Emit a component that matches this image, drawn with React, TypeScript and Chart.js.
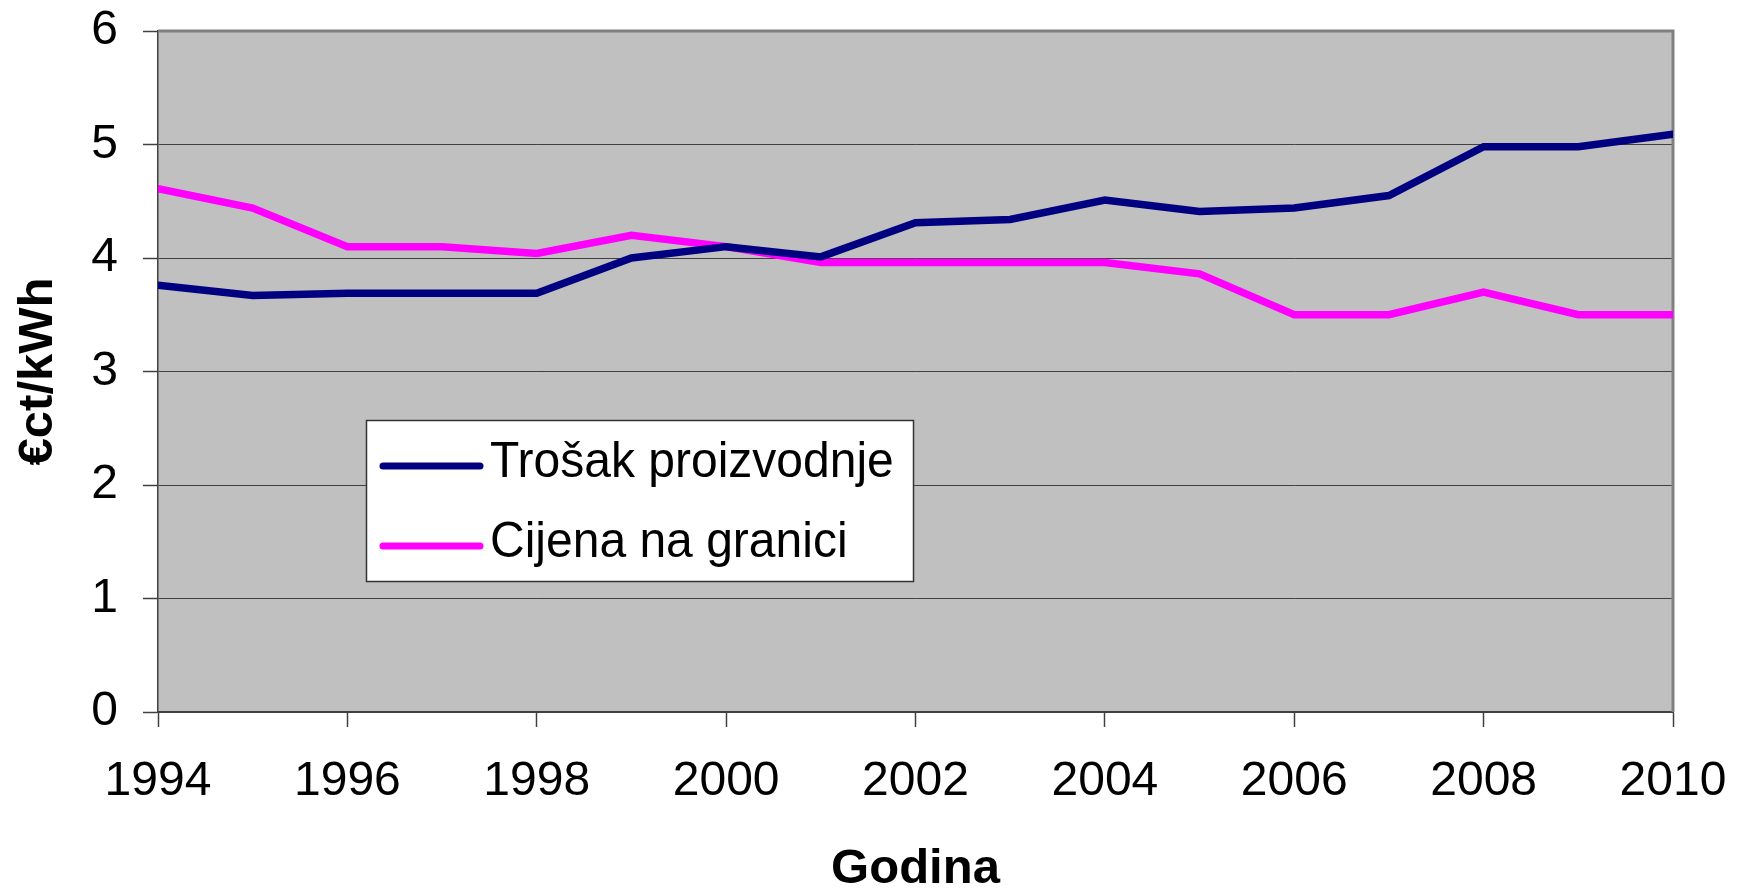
import React, { useEffect, useRef } from 'react';
import { Chart, registerables } from 'chart.js';

Chart.register(...registerables);

// ---- Data ----
const years = [1994, 1995, 1996, 1997, 1998, 1999, 2000, 2001, 2002, 2003, 2004, 2005, 2006, 2007, 2008, 2009, 2010];
const trosakProizvodnje = [3.76, 3.67, 3.69, 3.69, 3.69, 4.0, 4.1, 4.01, 4.31, 4.34, 4.51, 4.41, 4.44, 4.55, 4.98, 4.98, 5.09];
const cijenaNaGranici = [4.61, 4.44, 4.1, 4.1, 4.04, 4.2, 4.1, 3.96, 3.96, 3.96, 3.96, 3.86, 3.5, 3.5, 3.7, 3.5, 3.5];
const seriesLabels = ['Trošak proizvodnje', 'Cijena na granici'];
const seriesColors = ['#000080', '#FF00FF'];
const xAxisTitle = 'Godina';
const yAxisTitle = '€ct/kWh';
const yMin = 0;
const yMax = 6;
const yStep = 1;
const xStep = 2;

const FONT = "'Liberation Sans', Arial, Helvetica, sans-serif";
Chart.defaults.font.family = FONT;

const plotFrame = {
  id: 'plotFrame',
  beforeDraw(chart: any) {
    const { ctx, chartArea: a } = chart;
    ctx.save();
    ctx.fillStyle = '#C0C0C0';
    ctx.fillRect(a.left, a.top, a.right - a.left, a.bottom - a.top);
    ctx.restore();
  },
  beforeDatasetsDraw(chart: any) {
    const { ctx, chartArea: a } = chart;
    ctx.save();
    ctx.strokeStyle = '#808080';
    ctx.lineWidth = 3;
    ctx.beginPath();
    ctx.moveTo(a.left, a.top);
    ctx.lineTo(a.right, a.top);
    ctx.lineTo(a.right, a.bottom);
    ctx.stroke();
    ctx.restore();
  },
};

const boxLegend = {
  id: 'boxLegend',
  afterDatasetsDraw(chart: any) {
    const { ctx, chartArea: a } = chart;
    const x = a.left + 208;
    const y = a.top + 389;
    const w = 547;
    const h = 161;
    ctx.save();
    ctx.fillStyle = '#FFFFFF';
    ctx.fillRect(x, y, w, h);
    ctx.strokeStyle = '#333333';
    ctx.lineWidth = 1.5;
    ctx.strokeRect(x + 0.5, y + 0.5, w, h);
    chart.data.datasets.forEach((ds: any, i: number) => {
      const ly = y + 46 + i * 80;
      ctx.strokeStyle = ds.borderColor;
      ctx.lineWidth = 7;
      ctx.lineCap = 'round';
      ctx.beginPath();
      ctx.moveTo(x + 17, ly);
      ctx.lineTo(x + 114, ly);
      ctx.stroke();
      ctx.save();
      ctx.translate(x + 124, ly + 10.5);
      ctx.scale(1, 1.05);
      ctx.fillStyle = '#000000';
      ctx.font = `48px ${FONT}`;
      ctx.textBaseline = 'alphabetic';
      ctx.textAlign = 'left';
      ctx.fillText(ds.label, 0, 0);
      ctx.restore();
    });
    ctx.restore();
  },
};

export default function App() {
  const ref = useRef<HTMLCanvasElement>(null);

  useEffect(() => {
    const seriesValues = [trosakProizvodnje, cijenaNaGranici];
    const chart = new Chart(ref.current as HTMLCanvasElement, {
      type: 'line',
      data: {
        datasets: seriesValues.map((vals, i) => ({
          label: seriesLabels[i],
          data: years.map((yr, j) => ({ x: yr, y: vals[j] })),
          borderColor: seriesColors[i],
          backgroundColor: seriesColors[i],
          borderWidth: 7.5,
          pointRadius: 0,
          pointHoverRadius: 0,
          tension: 0,
          borderCapStyle: 'round',
          fill: false,
        })),
      },
      options: {
        responsive: false,
        animation: false,
        events: [],
        layout: { padding: { top: 31, right: 68, bottom: 0, left: 0 } },
        plugins: {
          legend: { display: false },
          tooltip: { enabled: false },
        },
        scales: {
          x: {
            type: 'linear',
            min: years[0],
            max: years[years.length - 1],
            ticks: {
              stepSize: xStep,
              autoSkip: false,
              maxRotation: 0,
              color: '#000000',
              font: { size: 48 },
              padding: 26,
              callback: (v: any) => String(v),
            },
            grid: {
              drawOnChartArea: false,
              drawTicks: true,
              tickLength: 15,
              tickColor: '#404040',
              tickWidth: 1.5,
            },
            border: { display: true, color: '#404040', width: 2 },
            title: {
              display: true,
              text: xAxisTitle,
              color: '#000000',
              font: { size: 49, weight: 'bold', lineHeight: 0.9 },
              padding: { top: 0, bottom: 1 },
            },
            afterFit: (s: any) => {
              s.height = 181;
              s.paddingLeft = 0;
              s.paddingRight = 0;
              s.paddingTop = 0;
              s.paddingBottom = 0;
            },
          },
          y: {
            min: yMin,
            max: yMax,
            ticks: {
              stepSize: yStep,
              color: '#000000',
              font: { size: 48 },
              padding: 25,
            },
            grid: {
              color: '#404040',
              lineWidth: 1,
              tickLength: 15,
              tickColor: '#404040',
              tickWidth: 1.5,
            },
            border: { display: true, color: '#404040', width: 1.5 },
            title: {
              display: true,
              text: yAxisTitle,
              color: '#000000',
              font: { size: 49, weight: 'bold', lineHeight: 0.9 },
              padding: { top: 16, bottom: 0 },
            },
            afterFit: (s: any) => {
              s.width = 158;
              s.paddingLeft = 0;
              s.paddingRight = 0;
              s.paddingTop = 0;
              s.paddingBottom = 0;
            },
          },
        },
      } as any,
      plugins: [plotFrame, boxLegend],
    });
    return () => chart.destroy();
  }, []);

  return (
    <div style={{ position: 'absolute', left: 0, top: 0, width: 1741, height: 893 }}>
      <canvas ref={ref} width={1741} height={893} style={{ display: 'block', width: 1741, height: 893 }} />
    </div>
  );
}
